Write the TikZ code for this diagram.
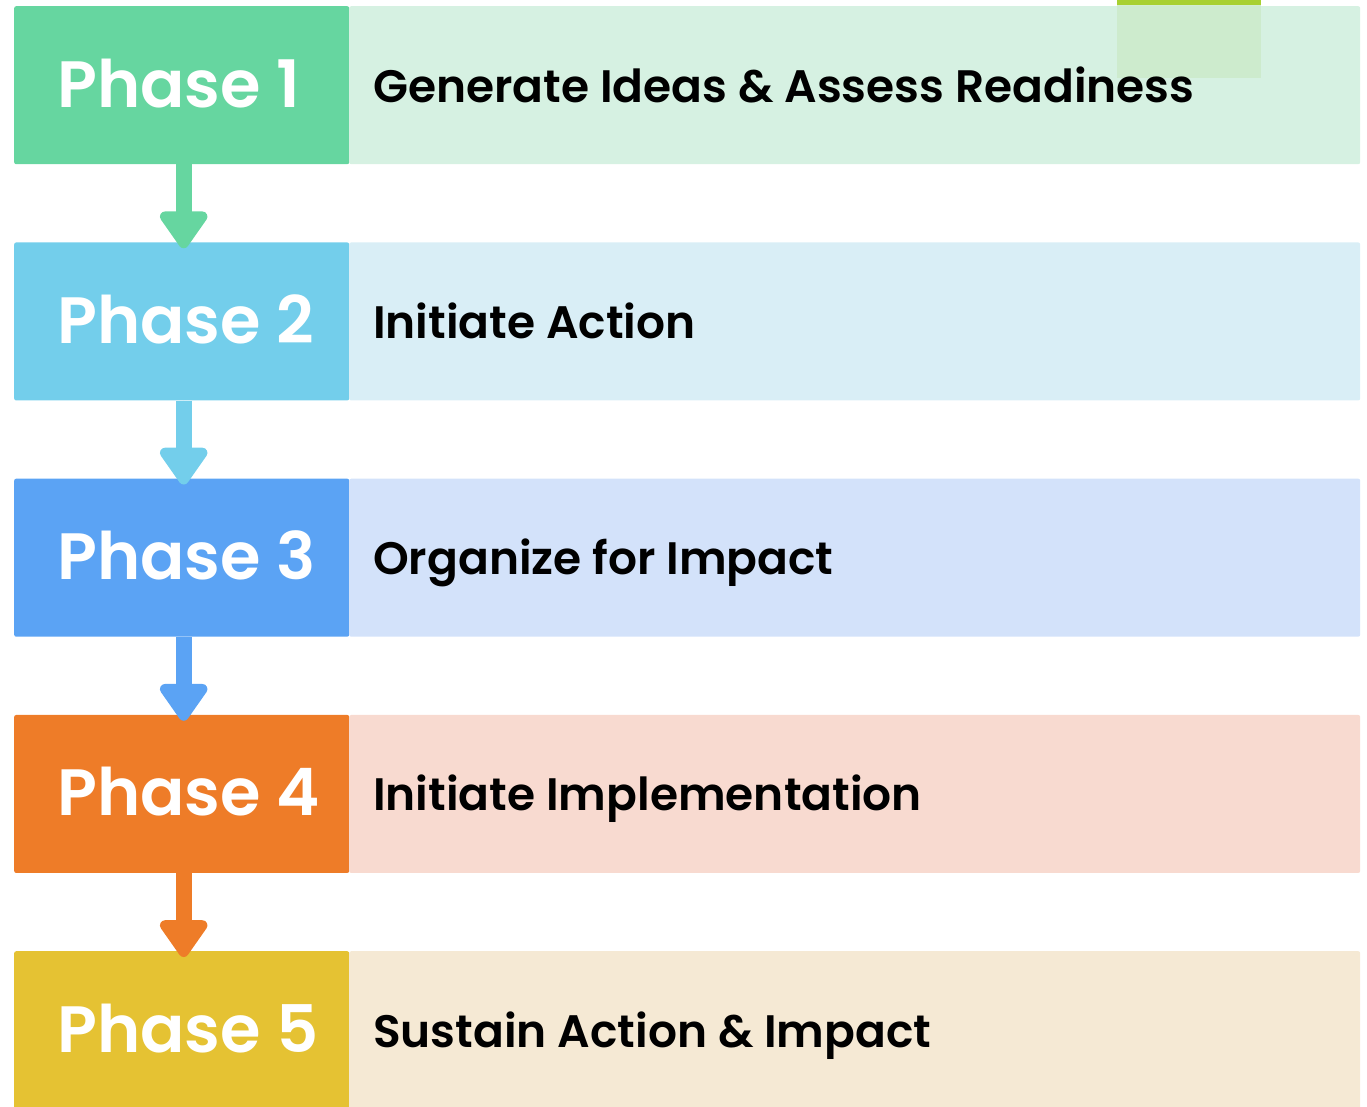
\documentclass[tikz,border=0pt]{standalone}
\usepackage{fontspec}
\setmainfont{Poppins}[BoldFont={Poppins SemiBold}]
\usetikzlibrary{arrows.meta}
\definecolor{dA}{HTML}{66D6A0}\definecolor{lA}{HTML}{D6F1E2}
\definecolor{dB}{HTML}{73CEEB}\definecolor{lB}{HTML}{D9EEF6}
\definecolor{dC}{HTML}{5BA3F4}\definecolor{lC}{HTML}{D3E2FA}
\definecolor{dD}{HTML}{EE7C28}\definecolor{lD}{HTML}{F8DAD0}
\definecolor{dE}{HTML}{E5C233}\definecolor{lE}{HTML}{F5E9D4}
\definecolor{lime}{HTML}{A8D030}\definecolor{sq}{HTML}{CDEBCB}
\tikzset{
  phasebox/.style={anchor=north west, minimum width=335pt, minimum height=158pt, inner sep=0pt, rounded corners=2pt, draw=none},
  descbox/.style={anchor=north west, minimum width=1011pt, minimum height=158pt, inner sep=0pt, rounded corners=2pt, draw=none},
  phasetext/.style={anchor=base west, inner sep=0pt, text=white, font=\fontsize{65.5}{74}\selectfont\bfseries},
  desctext/.style={anchor=base west, inner sep=0pt, text=black, font=\fontsize{45.5}{54}\selectfont\bfseries},
  flow/.style={line width=16pt, -{Triangle[width=54pt,length=41pt,round]}, shorten >=-6pt}
}
\begin{document}
\begin{tikzpicture}[x=1pt,y=-1pt]
\useasboundingbox (0,0) rectangle (1367,1106);
\foreach \i/\c/\t in {1/A/Generate Ideas \& Assess Readiness,2/B/Initiate Action,3/C/Organize for Impact,4/D/Initiate Implementation,5/E/Sustain Action \& Impact}{
  \pgfmathsetmacro{\tp}{6+236.25*(\i-1)}
  \node[phasebox, fill=d\c] (p\i) at (14,\tp) {};
  \node[descbox, fill=l\c] (r\i) at (349,\tp) {};
}
% decorative square top right
\fill[sq, opacity=0.9] (1117,0) rectangle (1261,78);
\fill[lime] (1117,0) rectangle (1261,5);
\foreach \i/\c/\t in {1/A/Generate Ideas \& Assess Readiness,2/B/Initiate Action,3/C/Organize for Impact,4/D/Initiate Implementation,5/E/Sustain Action \& Impact}{
  \pgfmathsetmacro{\tp}{6+236.25*(\i-1)}
  \node[phasetext] (pt\i) at (57,\tp+101) {Phase \i};
  \node[desctext] (rt\i) at (373,\tp+96) {\t};
}
\foreach \i/\j/\c in {1/2/A,2/3/B,3/4/C,4/5/D}{
  \draw[flow, draw=d\c, fill=d\c] ([xshift=2pt]p\i.south) -- ([xshift=2pt]p\j.north);
}
\end{tikzpicture}
\end{document}
